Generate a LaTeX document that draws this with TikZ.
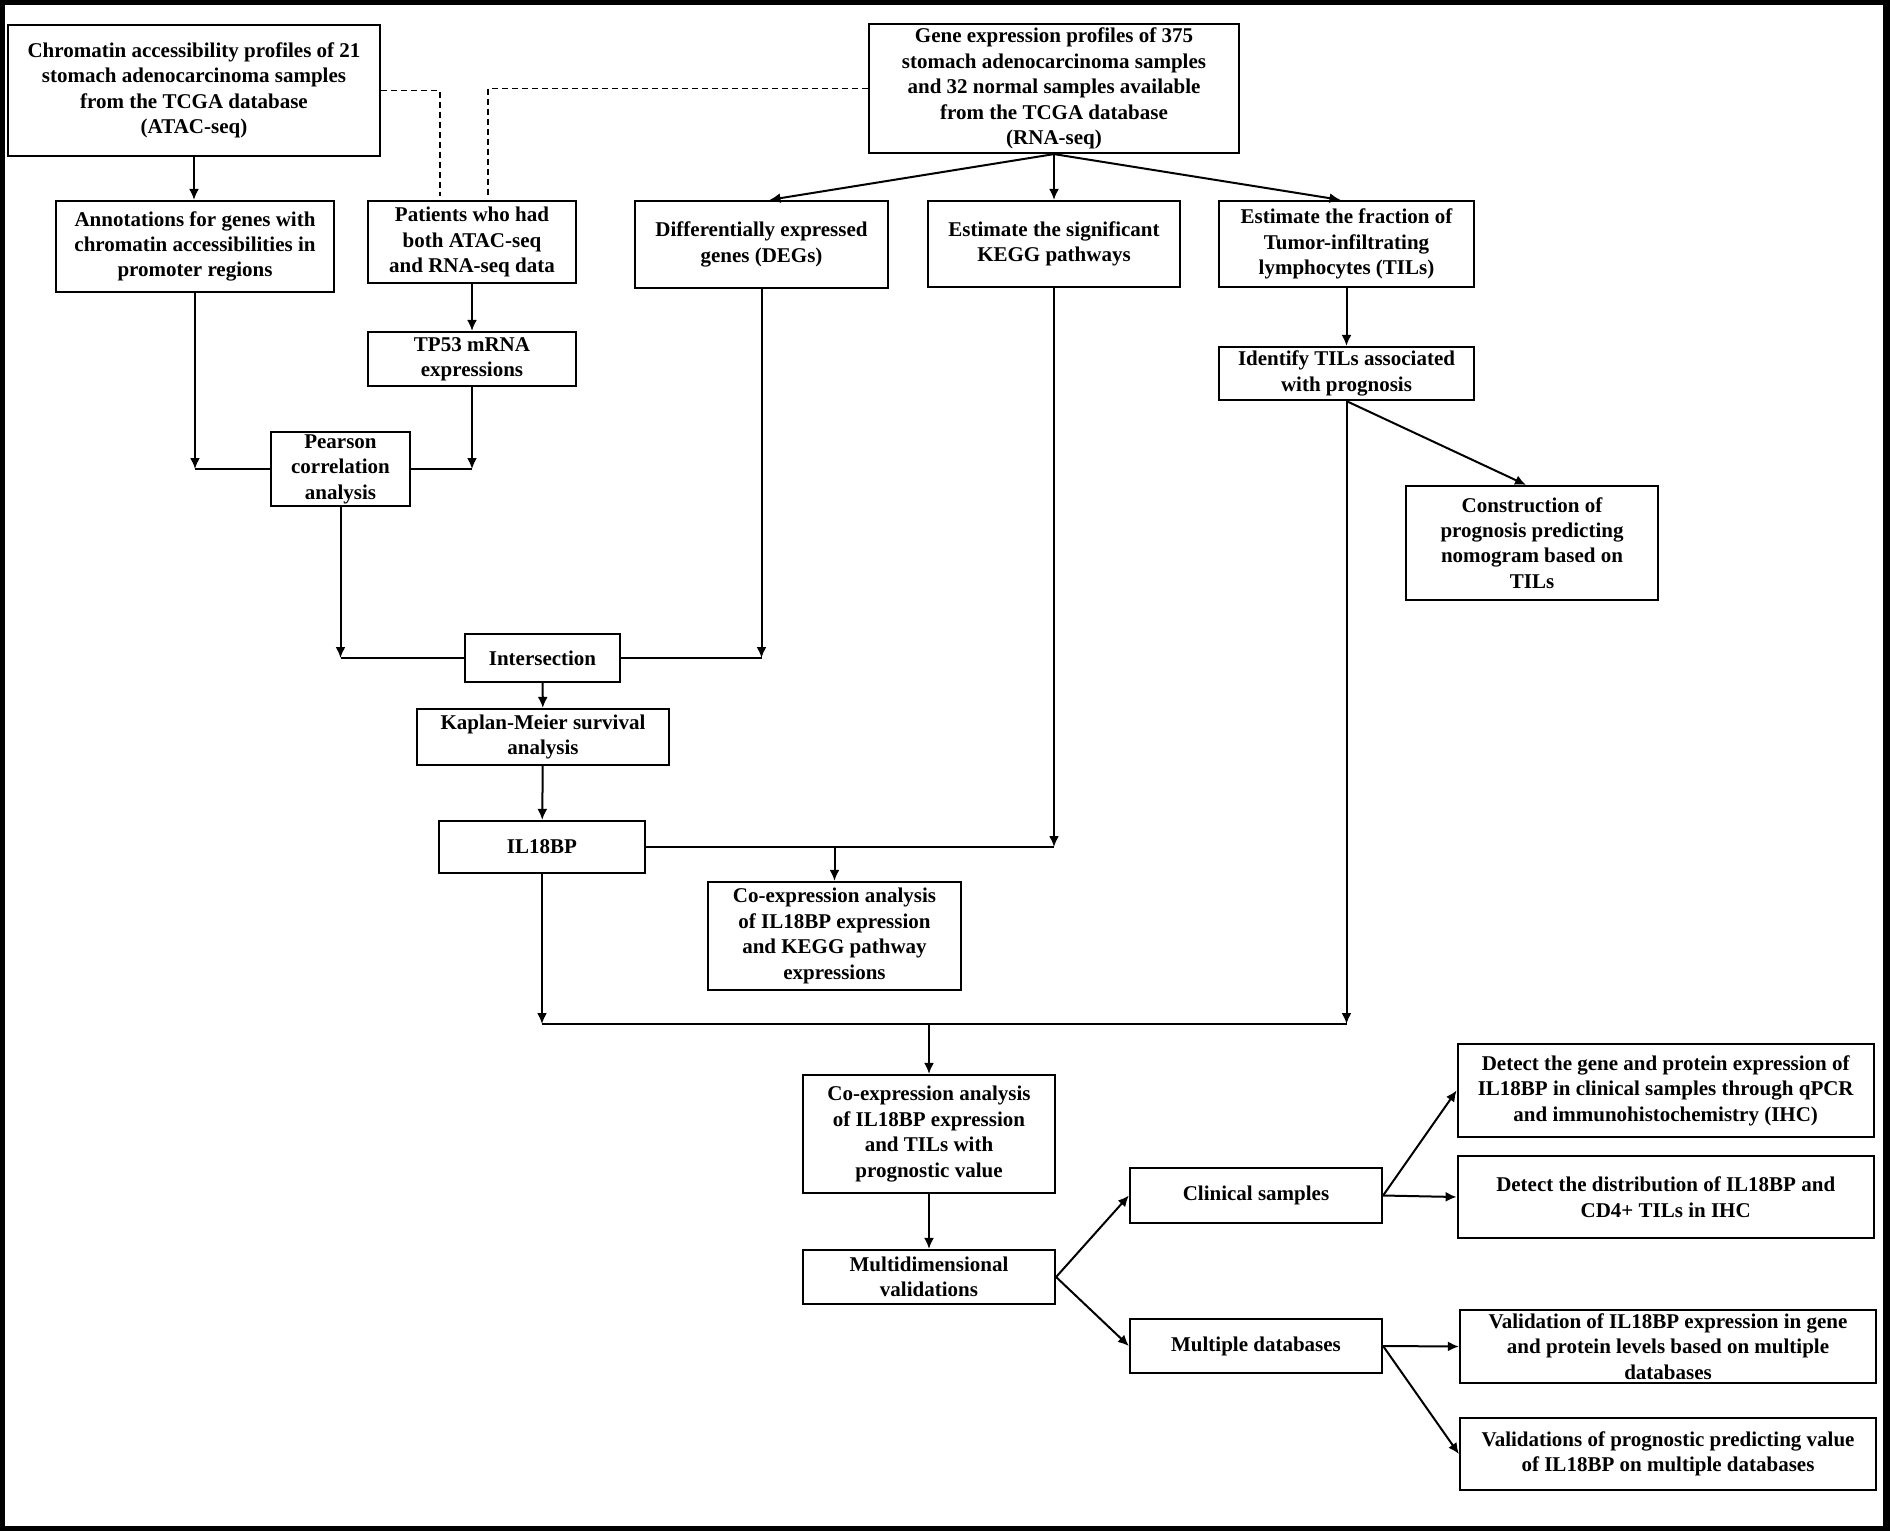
\documentclass[tikz,border=0pt]{standalone}
\usepackage{fontspec}
\setmainfont{Liberation Serif}
\usepackage{tikz}
\usetikzlibrary{arrows.meta,positioning,calc}

\begin{document}
\begin{tikzpicture}[x=0.5pt, y=-0.5pt,
    box/.style={draw, line width=1.1pt, align=center, inner xsep=2pt, inner ysep=0.5pt,
      font=\bfseries\fontsize{10.5}{12.7}\selectfont},
    arr/.style={line width=1pt, -{Latex[length=5.5pt,width=5pt]}},
    link/.style={line width=1pt},
    dashlink/.style={line width=0.9pt, dash pattern=on 3pt off 2pt}]
    % frame
    \fill[black] (0,0) rectangle (1890,1531);
    \fill[white] (5,5) rectangle (1883,1526);
    \useasboundingbox (0,0) rectangle (1890,1531);
    % data sources
    \node[box, minimum width=186pt, minimum height=65.5pt] (atac) at (194,90.5)
      {Chromatin accessibility profiles of 21\\stomach adenocarcinoma samples\\from the TCGA database\\(ATAC-seq)};
    \node[box, minimum width=185pt, minimum height=64.5pt] (rnaseq) at (1054,88.5)
      {Gene expression profiles of 375\\stomach adenocarcinoma samples\\and 32 normal samples available\\from the TCGA database\\(RNA-seq)};
    % left branch
    \node[box, minimum width=139pt, minimum height=45.5pt] (annot) at (195,246.5)
      {Annotations for genes with\\chromatin accessibilities in\\promoter regions};
    \node[box, minimum width=104pt, minimum height=41pt] (patients) at (472,242)
      {Patients who had\\both ATAC-seq\\and RNA-seq data};
    \node[box, minimum width=104pt, minimum height=27pt] (tp53) at (472,359)
      {TP53 mRNA\\expressions};
    \node[box, minimum width=69.5pt, minimum height=37pt] (pearson) at (340.5,469)
      {Pearson\\correlation\\analysis};
    % RNA-seq branches
    \node[box, minimum width=126.5pt, minimum height=43.5pt] (deg) at (761.5,244.5)
      {Differentially expressed\\genes (DEGs)};
    \node[box, minimum width=126pt, minimum height=43pt] (kegg) at (1054,244)
      {Estimate the significant\\KEGG pathways};
    \node[box, minimum width=127.5pt, minimum height=43pt] (tilfrac) at (1346.5,244)
      {Estimate the fraction of\\Tumor-infiltrating\\lymphocytes (TILs)};
    \node[box, minimum width=127.5pt, minimum height=26.5pt] (tilprog) at (1346.5,373.5)
      {Identify TILs associated\\with prognosis};
    \node[box, minimum width=126pt, minimum height=57pt] (nomo) at (1532,543)
      {Construction of\\prognosis predicting\\nomogram based on\\TILs};
    % IL18BP path
    \node[box, minimum width=77.5pt, minimum height=24pt] (inter) at (542.5,658) {Intersection};
    \node[box, minimum width=126pt, minimum height=28pt] (km) at (543,737)
      {Kaplan-Meier survival\\analysis};
    \node[box, minimum width=103pt, minimum height=26pt] (il18) at (542,847) {IL18BP};
    \node[box, minimum width=126.5pt, minimum height=54pt] (coexkegg) at (834.5,936)
      {Co-expression analysis\\of IL18BP expression\\and KEGG pathway\\expressions};
    \node[box, minimum width=126pt, minimum height=59pt] (coextil) at (929,1134)
      {Co-expression analysis\\of IL18BP expression\\and TILs with\\prognostic value};
    \node[box, minimum width=126pt, minimum height=27pt] (multidim) at (929,1277)
      {Multidimensional\\validations};
    % validations
    \node[box, minimum width=126pt, minimum height=27.5pt] (clin) at (1256,1195.5) {Clinical samples};
    \node[box, minimum width=126pt, minimum height=27pt] (mdb) at (1256,1346) {Multiple databases};
    \node[box, minimum width=208pt, minimum height=46.5pt] (detgene) at (1665.7,1090.5)
      {Detect the gene and protein expression of\\IL18BP in clinical samples through qPCR\\and immunohistochemistry (IHC)};
    \node[box, minimum width=208pt, minimum height=41pt] (detdist) at (1665.7,1197)
      {Detect the distribution of IL18BP and\\CD4+ TILs in IHC};
    \node[box, minimum width=208pt, minimum height=36.5pt] (valexp) at (1668,1346.5)
      {Validation of IL18BP expression in gene\\and protein levels based on multiple\\databases};
    \node[box, minimum width=208pt, minimum height=36pt] (valprog) at (1668,1454)
      {Validations of prognostic predicting value\\of IL18BP on multiple databases};
    % dashed links to the shared patients
    \draw[dashlink, shorten >=2pt] (atac.east) -| ([xshift=-16pt]patients.north);
    \draw[dashlink, shorten >=2pt] (rnaseq.west) -| ([xshift=8pt]patients.north);
    % left branch arrows
    \draw[arr] (atac.south) -- (atac.south |- annot.north);
    \draw[arr] (patients) -- (tp53);
    \draw[arr] (annot.south) -- (annot.south |- pearson.west);
    \draw[link] (pearson.west) -- (annot.south |- pearson.west);
    \draw[arr] (tp53.south) -- (tp53.south |- pearson.east);
    \draw[link] (pearson.east) -- (tp53.south |- pearson.east);
    % RNA-seq arrows
    \draw[arr] (rnaseq.south) -- ([xshift=4pt]deg.north);
    \draw[arr] (rnaseq.south) -- (kegg.north);
    \draw[arr] (rnaseq.south) -- ([xshift=-3pt]tilfrac.north);
    \draw[arr] (tilfrac) -- (tilprog);
    \draw[arr] (tilprog.south) -- ([xshift=-3pt]nomo.north);
    % intersection
    \draw[arr] (pearson.south) -- (pearson.south |- inter.west);
    \draw[link] (inter.west) -- (pearson.south |- inter.west);
    \draw[arr] (deg.south) -- (deg.south |- inter.east);
    \draw[link] (inter.east) -- (deg.south |- inter.east);
    \draw[arr] (inter) -- (km);
    \draw[arr] (km) -- (il18);
    % KEGG co-expression
    \draw[arr] (kegg.south) -- (kegg.south |- il18.east);
    \draw[link] (il18.east) -- (kegg.south |- il18.east);
    \draw[arr] (il18.east -| coexkegg.north) -- (coexkegg.north);
    % merge of IL18BP and TILs
    \coordinate (merge) at (929,1024);
    \draw[arr] (il18.south) -- (il18.south |- merge);
    \draw[arr] (tilprog.south) -- (tilprog.south |- merge);
    \draw[link] (il18.south |- merge) -- (tilprog.south |- merge);
    \draw[arr] (merge) -- (coextil.north);
    \draw[arr] (coextil) -- (multidim);
    % validations
    \draw[arr] (multidim.east) -- (clin.west);
    \draw[arr] (multidim.east) -- (mdb.west);
    \draw[arr] (clin.east) -- (detgene.west);
    \draw[arr] (clin.east) -- (detdist.west);
    \draw[arr] (mdb.east) -- (valexp.west);
    \draw[arr] (mdb.east) -- (valprog.west);
\end{tikzpicture}
\end{document}
